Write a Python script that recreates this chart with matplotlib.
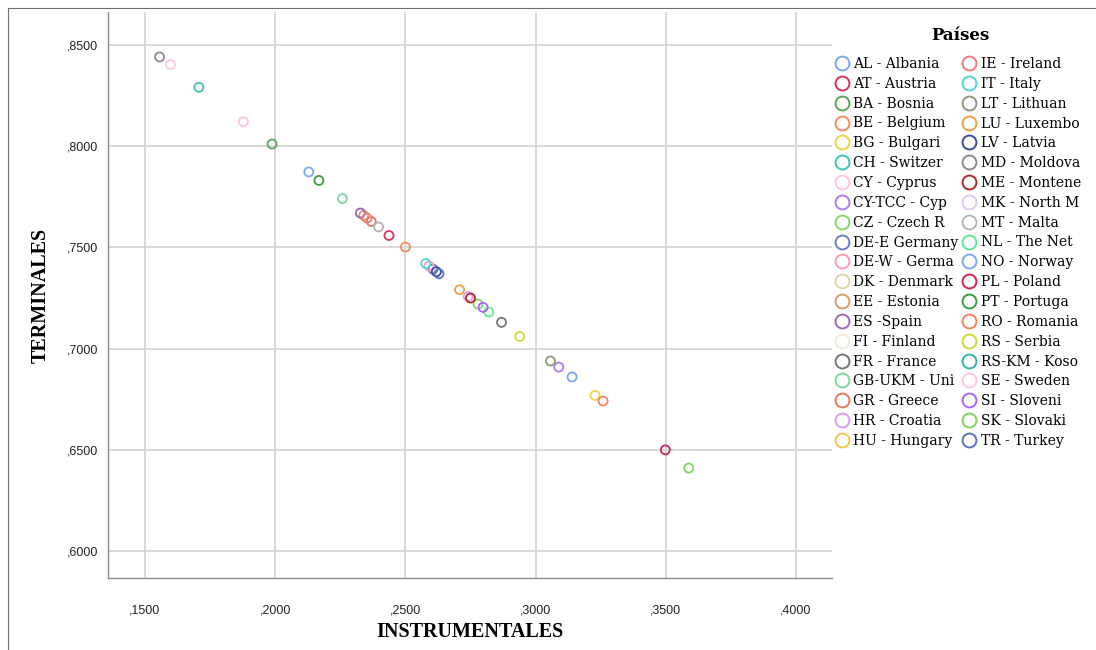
import matplotlib
matplotlib.use('Agg')
import matplotlib.pyplot as plt
from matplotlib.lines import Line2D
from matplotlib.ticker import FuncFormatter
import numpy as np

nan = np.nan

countries = ["AL - Albania", "AT - Austria", "BA - Bosnia", "BE - Belgium", "BG - Bulgari",
             "CH - Switzer", "CY - Cyprus", "CY-TCC - Cyp", "CZ - Czech R", "DE-E Germany",
             "DE-W - Germa", "DK - Denmark", "EE - Estonia", "ES -Spain", "FI - Finland",
             "FR - France", "GB-UKM - Uni", "GR - Greece", "HR - Croatia", "HU - Hungary",
             "IE - Ireland", "IT - Italy", "LT - Lithuan", "LU - Luxembo", "LV - Latvia",
             "MD - Moldova", "ME - Montene", "MK - North M", "MT - Malta", "NL - The Net",
             "NO - Norway", "PL - Poland", "PT - Portuga", "RO - Romania", "RS - Serbia",
             "RS-KM - Koso", "SE - Sweden", "SI - Sloveni", "SK - Slovaki", "TR - Turkey"]

colors = ["#7aa6ec", "#d9335a", "#5aa65a", "#f58a5c", "#e6d84a",
          "#3cc4b4", "#ffc4dc", "#b07af0", "#84d46a", "#6a80c4",
          "#ff98bc", "#e0d4ac", "#d89a66", "#9a68b4", "#f0ebdc",
          "#767676", "#7cd8a0", "#e07a5c", "#dc9cf2", "#f0c850",
          "#f07a7a", "#4ed6dc", "#8a9a7a", "#f0a040", "#3c4e98",
          "#8a8a8a", "#b0282c", "#e0c8f4", "#b4b4b4", "#5ce894",
          "#78aaf0", "#d82350", "#3e9a3e", "#f8845a", "#d0d838",
          "#2eb8ac", "#ffc8e0", "#a864f4", "#80d460", "#5a72c4"]

instrumentales = [0.3140, 0.2437, 0.1988, 0.2500, 0.3228,
                  0.1707, 0.1878, 0.3089, 0.2779, 0.2606,
                  0.2590, nan, 0.2340, 0.2327, nan,
                  0.2869, 0.2258, 0.2369, 0.2741, nan,
                  0.2353, 0.2578, 0.3057, 0.2708, 0.2619,
                  0.1556, 0.2750, nan, 0.2397, 0.2820,
                  0.2129, 0.3498, 0.2168, 0.3259, 0.2939,
                  nan, 0.1598, 0.2798, 0.3588, 0.2629]

terminales = [0.6860, 0.7559, 0.8011, 0.7502, 0.6769,
              0.8291, 0.8121, 0.6909, 0.7220, 0.7393,
              0.7408, nan, 0.7658, 0.7670, nan,
              0.7130, 0.7741, 0.7628, 0.7258, nan,
              0.7645, 0.7421, 0.6939, 0.7291, 0.7380,
              0.8441, 0.7250, nan, 0.7601, 0.7181,
              0.7873, 0.6500, 0.7831, 0.6741, 0.7060,
              nan, 0.8403, 0.7204, 0.6410, 0.7370]

x_ticks = [0.15, 0.20, 0.25, 0.30, 0.35, 0.40]
y_ticks = [0.60, 0.65, 0.70, 0.75, 0.80, 0.85]

W, H = 1096, 650
fig = plt.figure(figsize=(W / 100, H / 100), dpi=100)
ax = fig.add_axes([108 / W, 72 / H, (832 - 108) / W, (578 - 12) / H])

for xi, yi, c in zip(instrumentales, terminales, colors):
    if np.isnan(xi):
        continue
    ax.scatter([xi], [yi], s=42, facecolors='none', edgecolors=c, linewidths=1.3, zorder=3)

ax.set_xlim(0.1358, 0.4138)
ax.set_ylim(0.5867, 0.8663)
ax.set_xticks(x_ticks)
ax.set_yticks(y_ticks)
fmt = FuncFormatter(lambda v, p: ("%.4f" % v).lstrip("0").replace(".", ","))
ax.xaxis.set_major_formatter(fmt)
ax.yaxis.set_major_formatter(fmt)
ax.grid(True, color='#d2d2d2', linewidth=1.2, zorder=0)
ax.set_axisbelow(True)
for s in ['top', 'right']:
    ax.spines[s].set_visible(False)
for s in ['left', 'bottom']:
    ax.spines[s].set_color('#8c8c8c')
    ax.spines[s].set_linewidth(1.0)
ax.tick_params(length=0, labelsize=9, labelcolor='#222222')
ax.tick_params(axis='x', pad=19)
ax.tick_params(axis='y', pad=7)
for lab in ax.get_xticklabels() + ax.get_yticklabels():
    lab.set_fontfamily('Liberation Sans')

ax.set_xlabel("INSTRUMENTALES", fontfamily='Liberation Serif', fontweight='bold',
              fontsize=14.5, labelpad=4)
ax.set_ylabel("TERMINALES", fontfamily='Liberation Serif', fontweight='bold',
              fontsize=14.5, labelpad=12)

handles = [Line2D([], [], marker='o', linestyle='none', markerfacecolor='none',
                  markeredgecolor=c, markeredgewidth=1.4, markersize=10)
           for c in colors]
leg = fig.legend(handles, countries, loc='upper left', bbox_to_anchor=(835 / W, 1 - 57 / H),
                 ncol=2, frameon=False,
                 prop={'family': 'DejaVu Serif', 'size': 10},
                 handlelength=1.0, handletextpad=0.3, labelspacing=0.42,
                 columnspacing=0.3, borderaxespad=0, borderpad=0)
fig.text(960 / W, 1 - 35 / H, "Países", ha='center', va='center',
         fontfamily='DejaVu Serif', fontweight='bold', fontsize=12)

fig.add_artist(Line2D([8 / W, 8 / W], [0, 1 - 8 / H], transform=fig.transFigure,
                      color='#6e6e6e', linewidth=0.8))
fig.add_artist(Line2D([8 / W, 1], [1 - 8 / H, 1 - 8 / H], transform=fig.transFigure,
                      color='#6e6e6e', linewidth=0.8))

fig.savefig("out.png", dpi=100)
